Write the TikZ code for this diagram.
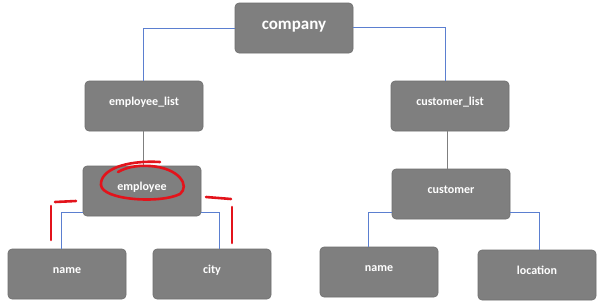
\documentclass[tikz,border=0pt]{standalone}
\usepackage{fontspec}
\setmainfont{Carlito}
\usetikzlibrary{positioning}
\definecolor{boxgray}{HTML}{7F7F7F}
\definecolor{boxedge}{HTML}{6E6E6E}
\definecolor{linkblue}{HTML}{5B7FD0}
\definecolor{markred}{HTML}{E3131B}
\tikzset{
  box/.style={rectangle,rounded corners=4pt,fill=boxgray,draw=boxedge,line width=.6pt,
    minimum width=118pt,minimum height=50pt,inner sep=0pt,text=white,
    text height=9pt,text depth=10.5pt,font=\fontsize{12}{14}\selectfont\bfseries},
  bluelink/.style={draw=linkblue,line width=.8pt},
  graylink/.style={draw=boxgray,line width=.8pt},
  redmark/.style={draw=markred,line width=2.6pt,line cap=round}
}
\begin{document}
\begin{tikzpicture}[x=1pt,y=-1pt]
\path[use as bounding box,fill=white] (0,0) rectangle (600,306);
\node[box,text height=12pt,text depth=9.5pt,font=\fontsize{17}{20}\selectfont\bfseries] (company) at (294,28) {company};
\node[box] (emplist) at (144,106) {employee\_list};
\node[box] (custlist) at (450,106) {customer\_list};
\node[box] (employee) at (142,191) {employee};
\node[box] (empname) at (67,274) {name};
\node[box] (empcity) at (212,274) {city};
\node[box] (customer) at (451,194) {customer};
\node[box] (custname) at (379,272) {name};
\node[box] (custloc) at (537,275) {location};
\draw[bluelink] (company.west) -| ([xshift=-1pt]emplist.north);
\draw[bluelink] ([yshift=1pt]company.east) -| ([xshift=-5pt]custlist.north);
\draw[graylink] ([xshift=-1pt]emplist.south) -- ([xshift=1pt]employee.north);
\draw[graylink] ([xshift=-3pt]custlist.south) -- ([xshift=-4pt]customer.north);
\draw[bluelink] ([yshift=4pt]employee.south west) -| ([xshift=-6pt]empname.north);
\draw[bluelink] ([yshift=4pt]employee.south east) -| ([xshift=7pt]empcity.north);
\draw[bluelink] ([yshift=7pt]customer.south west) -| ([xshift=-11pt]custname.north);
\draw[bluelink] ([yshift=7pt]customer.south east) -| ([xshift=2pt]custloc.north);
% red pen marks
\draw[redmark] (160,162) .. controls (125,160) and (100,170) .. (101,185)
  .. controls (102,200) and (160,204) .. (180,194)
  .. controls (190,186) and (180,168) .. (150,166) .. controls (135,165) and (125,168) .. (118,172);
\draw[redmark] (55,202) -- (76,201);
\draw[redmark] (51,206) -- (51,240);
\draw[redmark] (206,197) -- (231,199);
\draw[redmark] (232,207) -- (232,243);
\end{tikzpicture}
\end{document}
